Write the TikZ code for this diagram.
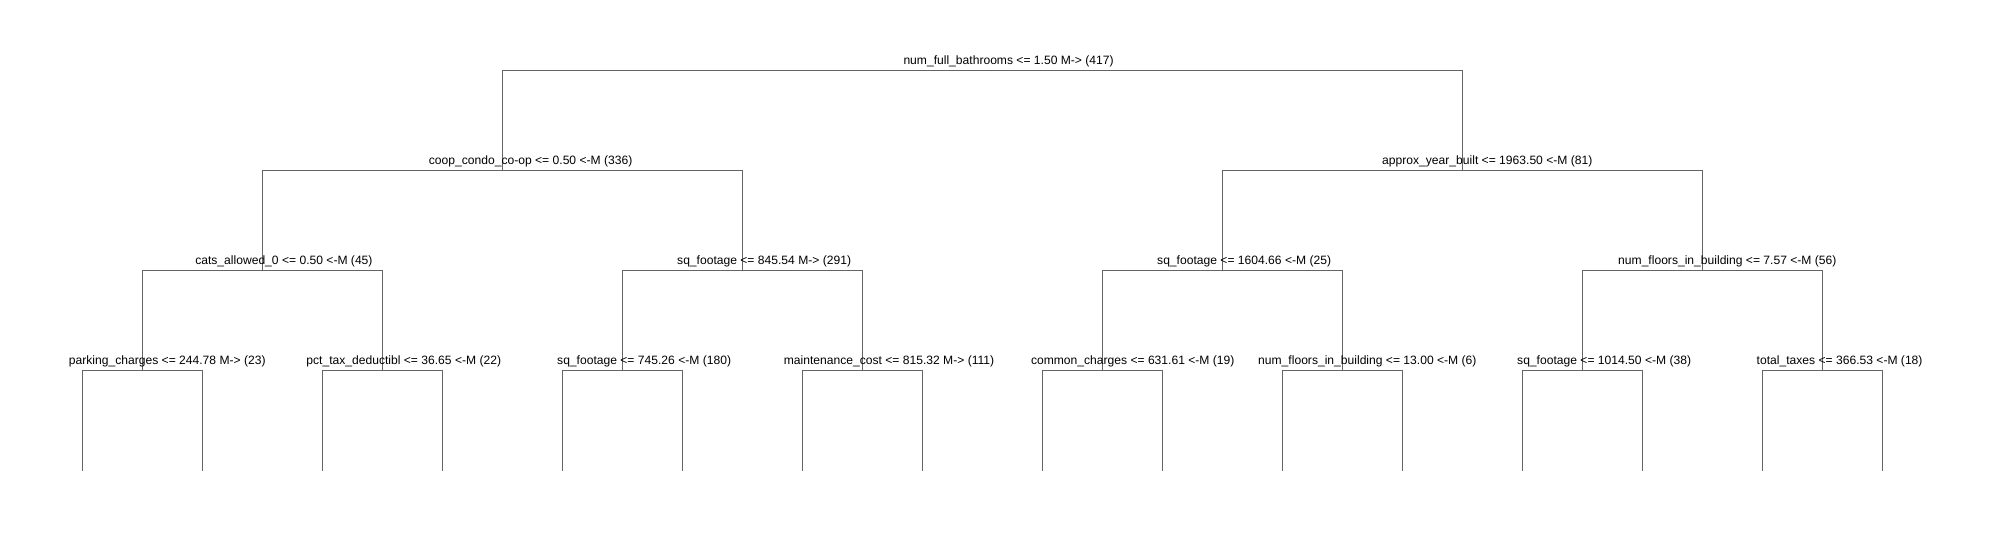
\documentclass[tikz,border=0pt]{standalone}
\usepackage{fontspec}
\setmainfont{Liberation Sans}
\definecolor{treegray}{RGB}{100,100,100}
\tikzset{
  branch/.style={draw=treegray, line width=1pt},
  splitlabel/.style={anchor=base west, inner sep=0pt, font=\fontsize{12.1}{14}\selectfont},
}
\begin{document}
\begin{tikzpicture}[x=1pt, y=-1pt]
\useasboundingbox (0,0) rectangle (1990,540);

% split points
\coordinate (root) at (982.3, 70.5);
\coordinate (a) at (502.3, 170.5);
\coordinate (b) at (1462.3, 170.5);
\coordinate (aa) at (262.3, 270.5);
\coordinate (ab) at (742.3, 270.5);
\coordinate (ba) at (1222.3, 270.5);
\coordinate (bb) at (1702.3, 270.5);
\coordinate (aaa) at (142.3, 370.5);
\coordinate (aab) at (382.3, 370.5);
\coordinate (aba) at (622.3, 370.5);
\coordinate (abb) at (862.3, 370.5);
\coordinate (baa) at (1102.3, 370.5);
\coordinate (bab) at (1342.3, 370.5);
\coordinate (bba) at (1582.3, 370.5);
\coordinate (bbb) at (1822.3, 370.5);

% leaves
\coordinate (l1) at (82.3, 470.5);
\coordinate (l2) at (202.3, 470.5);
\coordinate (l3) at (322.3, 470.5);
\coordinate (l4) at (442.3, 470.5);
\coordinate (l5) at (562.3, 470.5);
\coordinate (l6) at (682.3, 470.5);
\coordinate (l7) at (802.3, 470.5);
\coordinate (l8) at (922.3, 470.5);
\coordinate (l9) at (1042.3, 470.5);
\coordinate (l10) at (1162.3, 470.5);
\coordinate (l11) at (1282.3, 470.5);
\coordinate (l12) at (1402.3, 470.5);
\coordinate (l13) at (1522.3, 470.5);
\coordinate (l14) at (1642.3, 470.5);
\coordinate (l15) at (1762.3, 470.5);
\coordinate (l16) at (1882.3, 470.5);

% branches
\draw[branch] (a) |- (root) -| (b);
\draw[branch] (aa) |- (a) -| (ab);
\draw[branch] (ba) |- (b) -| (bb);
\draw[branch] (aaa) |- (aa) -| (aab);
\draw[branch] (aba) |- (ab) -| (abb);
\draw[branch] (baa) |- (ba) -| (bab);
\draw[branch] (bba) |- (bb) -| (bbb);
\draw[branch] (l1) |- (aaa) -| (l2);
\draw[branch] (l3) |- (aab) -| (l4);
\draw[branch] (l5) |- (aba) -| (l6);
\draw[branch] (l7) |- (abb) -| (l8);
\draw[branch] (l9) |- (baa) -| (l10);
\draw[branch] (l11) |- (bab) -| (l12);
\draw[branch] (l13) |- (bba) -| (l14);
\draw[branch] (l15) |- (bbb) -| (l16);

% split labels
\node[splitlabel] (rootlab) at (903.3, 64.5) {num\_full\_bathrooms <= 1.50 M-> (417)};

\node[splitlabel] (alab) at (428.7, 164.5) {coop\_condo\_co-op <= 0.50 <-M (336)};
\node[splitlabel] (blab) at (1382.0, 164.5) {approx\_year\_built <= 1963.50 <-M (81)};

\node[splitlabel] (aalab) at (195.1, 264.5) {cats\_allowed\_0 <= 0.50 <-M (45)};
\node[splitlabel] (ablab) at (677.0, 264.5) {sq\_footage <= 845.54 M-> (291)};
\node[splitlabel] (balab) at (1157.0, 264.5) {sq\_footage <= 1604.66 <-M (25)};
\node[splitlabel] (bblab) at (1618.0, 264.5) {num\_floors\_in\_building <= 7.57 <-M (56)};

\node[splitlabel] (aaalab) at (68.7, 364.5) {parking\_charges <= 244.78 M-> (23)};
\node[splitlabel] (aablab) at (306.2, 364.5) {pct\_tax\_deductibl <= 36.65 <-M (22)};
\node[splitlabel] (abalab) at (557.0, 364.5) {sq\_footage <= 745.26 <-M (180)};
\node[splitlabel] (abblab) at (783.6, 364.5) {maintenance\_cost <= 815.32 M-> (111)};
\node[splitlabel] (baalab) at (1030.8, 364.5) {common\_charges <= 631.61 <-M (19)};
\node[splitlabel] (bablab) at (1258.0, 364.5) {num\_floors\_in\_building <= 13.00 <-M (6)};
\node[splitlabel] (bbalab) at (1517.0, 364.5) {sq\_footage <= 1014.50 <-M (38)};
\node[splitlabel] (bbblab) at (1756.5, 364.5) {total\_taxes <= 366.53 <-M (18)};

\end{tikzpicture}
\end{document}
